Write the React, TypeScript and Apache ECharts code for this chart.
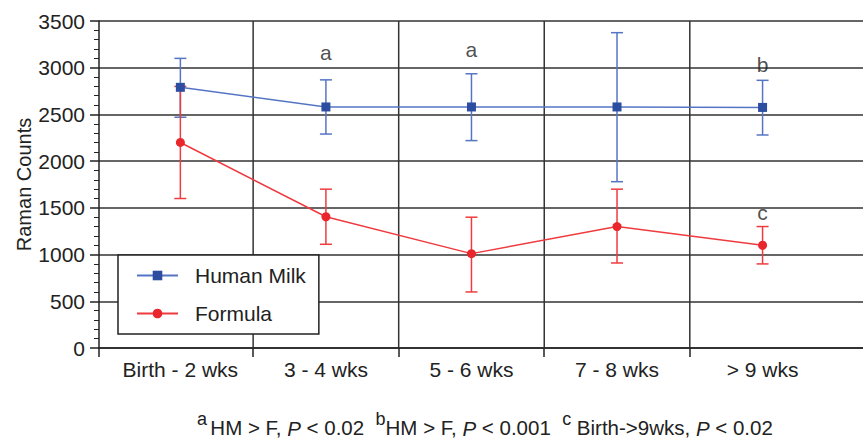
import React, { useEffect, useRef } from 'react';
import * as echarts from 'echarts';

const categories = ['Birth - 2 wks', '3 - 4 wks', '5 - 6 wks', '7 - 8 wks', '> 9 wks'];
const humanMilk = [2790, 2580, 2580, 2580, 2575];
const humanMilkLow = [2470, 2290, 2220, 1780, 2280];
const humanMilkHigh = [3100, 2870, 2935, 3375, 2865];
const formula = [2200, 1405, 1010, 1300, 1100];
const formulaLow = [1600, 1110, 600, 910, 900];
const formulaHigh = [2800, 1700, 1400, 1700, 1300];
const yMin = 0;
const yMax = 3500;
const yInterval = 500;
const annotationCats = [1, 2, 4, 4];
const annotationValues = [3160, 3190, 3030, 1455];
const annotationTexts = ['a', 'a', 'b', 'c'];

const xMin = -0.559;
const xMax = 4.69;

const BLUE = '#2D4DA0';
const BLUE_LINE = '#5575C4';
const RED = '#E8262C';
const RED_LINE = '#EF3B3F';
const INK = '#222';
const GRID = '#333';
const FONT = 'Liberation Sans, Arial, sans-serif';

export default function App() {
  const ref = useRef<HTMLDivElement>(null);
  useEffect(() => {
    if (!ref.current) return;
    const chart = echarts.init(ref.current, undefined, { renderer: 'svg' });
    const boundaries = categories.slice(0, -1).map((_, i) => i + 0.5);
    const hmData = humanMilk.map((v, i) => [i, v]);
    const fData = formula.map((v, i) => [i, v]);
    const hmErr = humanMilk.map((_, i) => [i, humanMilkLow[i], humanMilkHigh[i]]);
    const fErr = formula.map((_, i) => [i, formulaLow[i], formulaHigh[i]]);
    const annData = annotationCats.map((c, i) => [c, annotationValues[i], annotationTexts[i]]);

    const errRender = (color: string) => (params: any, api: any) => {
      const x = api.value(0);
      const lo = api.coord([x, api.value(1)]);
      const hi = api.coord([x, api.value(2)]);
      const hw = 6;
      const style = { stroke: color, lineWidth: 1.5 };
      return {
        type: 'group',
        children: [
          { type: 'line', shape: { x1: lo[0], y1: lo[1], x2: hi[0], y2: hi[1] }, style },
          { type: 'line', shape: { x1: lo[0] - hw, y1: lo[1], x2: lo[0] + hw, y2: lo[1] }, style },
          { type: 'line', shape: { x1: hi[0] - hw, y1: hi[1], x2: hi[0] + hw, y2: hi[1] }, style },
        ],
      };
    };

    const option: any = {
      animation: false,
      backgroundColor: '#fff',
      textStyle: { fontFamily: FONT },
      grid: { left: 99, right: 0, top: 21, bottom: 95, containLabel: false },
      legend: {
        show: true,
        orient: 'vertical',
        left: 118,
        top: 255,
        z: 10,
        data: ['Human Milk', 'Formula'],
        backgroundColor: '#fff',
        borderColor: INK,
        borderWidth: 1.5,
        padding: [10, 13, 10, 18],
        itemGap: 17,
        itemWidth: 41,
        itemHeight: 12,
        textStyle: { fontSize: 21, color: INK, lineHeight: 20, padding: [0, 0, 0, 12], fontFamily: FONT },
      },
      xAxis: {
        type: 'value',
        min: xMin,
        max: xMax,
        axisLine: { show: true, onZero: false, lineStyle: { color: INK, width: 1.5 } },
        axisTick: { show: true, length: 9, customValues: [xMin, ...boundaries], lineStyle: { color: INK, width: 1.5 } },
        axisLabel: {
          show: true,
          customValues: categories.map((_, i) => i),
          formatter: (v: number) => categories[Math.round(v)] ?? '',
          fontSize: 21,
          color: INK,
          margin: 11,
          fontFamily: FONT,
        },
        splitLine: { show: false },
      },
      yAxis: {
        type: 'value',
        min: yMin,
        max: yMax,
        interval: yInterval,
        name: 'Raman Counts',
        nameLocation: 'middle',
        nameGap: 65,
        nameMoveOverlap: false,
        nameRotate: 90,
        nameTextStyle: { fontSize: 20, color: INK, fontFamily: FONT },
        axisLine: { show: true, onZero: false, lineStyle: { color: INK, width: 1.5 } },
        axisTick: { show: true, length: 9, lineStyle: { color: INK, width: 1.5 } },
        minorTick: { show: true, splitNumber: 5, length: 5, lineStyle: { color: INK, width: 1 } },
        axisLabel: { fontSize: 21, color: INK, margin: 14, fontFamily: FONT, formatter: (v: number) => String(v) },
        splitLine: { show: true, lineStyle: { color: GRID, width: 1.5 } },
      },
      series: [
        {
          type: 'custom',
          name: 'vgrid',
          z: 1,
          silent: true,
          renderItem: (params: any, api: any) => {
            const x = api.value(0);
            const top = api.coord([x, yMax]);
            const bot = api.coord([x, yMin]);
            return { type: 'line', shape: { x1: top[0], y1: top[1], x2: bot[0], y2: bot[1] }, style: { stroke: GRID, lineWidth: 1.5 } };
          },
          data: boundaries.map((b) => [b]),
          encode: { x: 0 },
        },
        {
          type: 'custom',
          name: 'hmErr',
          z: 2,
          silent: true,
          renderItem: errRender(BLUE_LINE),
          data: hmErr,
          encode: { x: 0, y: [1, 2] },
        },
        {
          type: 'custom',
          name: 'fErr',
          z: 2,
          silent: true,
          renderItem: errRender(RED_LINE),
          data: fErr,
          encode: { x: 0, y: [1, 2] },
        },
        {
          type: 'line',
          name: 'Human Milk',
          z: 3,
          data: hmData,
          symbol: 'rect',
          symbolSize: 9,
          itemStyle: { color: BLUE },
          lineStyle: { color: BLUE_LINE, width: 1.5 },
        },
        {
          type: 'line',
          name: 'Formula',
          z: 3,
          data: fData,
          symbol: 'circle',
          symbolSize: 9,
          itemStyle: { color: RED },
          lineStyle: { color: RED_LINE, width: 1.5 },
        },
        {
          type: 'scatter',
          name: 'annotations',
          z: 4,
          symbolSize: 0,
          silent: true,
          data: annData,
          label: {
            show: true,
            position: 'inside',
            formatter: (p: any) => p.value[2],
            fontSize: 21,
            color: INK,
            fontFamily: FONT,
          },
        },
      ],
      graphic: [
        {
          type: 'text',
          left: 197,
          top: 410,
          style: {
            text:
              '{s|a} {t|HM > F, }{i|P}{t| < 0.02  }{s|b}{t|HM > F, }{i|P}{t| < 0.001  }{s|c}{t| Birth->9wks, }{i|P}{t| < 0.02}',
            rich: {
              t: { fontSize: 20.5, lineHeight: 28, verticalAlign: 'bottom', fill: INK, fontFamily: FONT },
              i: { fontSize: 20.5, lineHeight: 28, verticalAlign: 'bottom', fill: INK, fontStyle: 'italic', fontFamily: FONT },
              s: { fontSize: 18, lineHeight: 22, verticalAlign: 'top', fill: INK, fontFamily: FONT },
            },
          },
        },
      ],
    };
    chart.setOption(option);
    return () => chart.dispose();
  }, []);
  return <div ref={ref} style={{ position: 'absolute', left: 0, top: 0, width: 863, height: 443 }} />;
}
